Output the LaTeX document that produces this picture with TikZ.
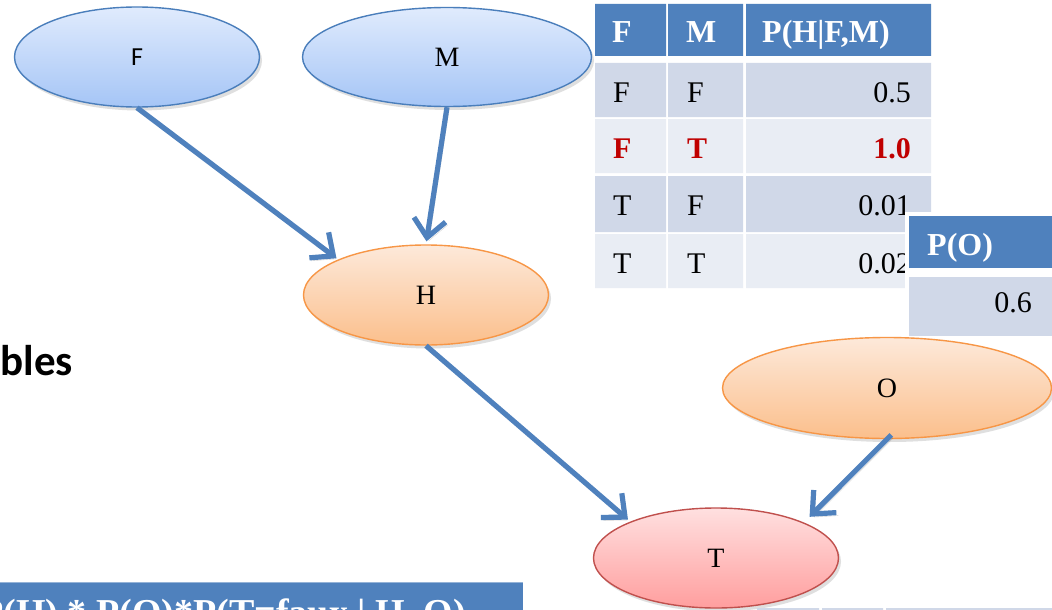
\documentclass[tikz,border=0pt]{standalone}
\usepackage{fontspec}
\setmainfont{Liberation Serif}
\newfontfamily\calib{Carlito}
\usetikzlibrary{shapes.geometric,arrows.meta,shadows}

\definecolor{hdrblue}{HTML}{4F81BD}
\definecolor{rowdark}{HTML}{D0D8E8}
\definecolor{rowlight}{HTML}{E9EDF4}
\definecolor{linkblue}{HTML}{4F81BD}
\definecolor{blueedge}{HTML}{4A7EBB}
\definecolor{bluetop}{HTML}{E0EBFD}
\definecolor{bluebot}{HTML}{A5C5F6}
\definecolor{orangeedge}{HTML}{F79646}
\definecolor{orangetop}{HTML}{FDE9DA}
\definecolor{orangebot}{HTML}{FBBF8C}
\definecolor{rededge}{HTML}{C0504D}
\definecolor{redtop}{HTML}{FFE0E0}
\definecolor{redbot}{HTML}{FF9E9E}
\definecolor{darkred}{HTML}{C00000}

\begin{document}
\begin{tikzpicture}[x=1pt,y=-1pt,
  varnode/.style={ellipse, inner sep=0pt, line width=1.4pt,
    drop shadow={shadow xshift=2.5pt, shadow yshift=-3.5pt, opacity=0.25}},
  bluevar/.style={varnode, draw=blueedge, top color=bluetop, bottom color=bluebot},
  orangevar/.style={varnode, draw=orangeedge, top color=orangetop, bottom color=orangebot},
  redvar/.style={varnode, draw=rededge, top color=redtop, bottom color=redbot},
  letter/.style={font=\fontsize{28}{32}\selectfont},
  link/.style={draw=linkblue, line width=5.2pt,
    -{Straight Barb[length=18pt,width=32pt]},
    preaction={draw=black, opacity=0.18, transform canvas={shift={(2pt,-3pt)}}}},
  cell/.style={inner sep=0pt, font=\fontsize{30}{34}\selectfont},
  headcell/.style={cell, text=white, font=\fontsize{32}{36}\selectfont\bfseries},
  hotcell/.style={cell, text=darkred, font=\fontsize{30}{34}\selectfont\bfseries}]

\useasboundingbox (0,0) rectangle (1052,610);
\clip (0,0) rectangle (1052,610);
\fill[white] (0,0) rectangle (1052,610);

% conditional table P(H|F,M)
\fill[hdrblue] (595,4) rectangle (666,56) (668,4) rectangle (743,56) (746,4) rectangle (931,56);
\fill[rowdark]  (595,63) rectangle (666,117) (668,63) rectangle (743,117) (746,63) rectangle (931,117);
\fill[rowlight] (595,119) rectangle (666,173) (668,119) rectangle (743,173) (746,119) rectangle (931,173);
\fill[rowdark]  (595,176) rectangle (666,232) (668,176) rectangle (743,232) (746,176) rectangle (931,232);
\fill[rowlight] (595,234) rectangle (666,288) (668,234) rectangle (743,288) (746,234) rectangle (931,288);

\node[headcell, anchor=base west] (hF) at (612,43) {F};
\node[headcell, anchor=base west] (hM) at (686,43) {M};
\node[headcell, anchor=base west] (hP) at (762,43) {P(H|F,M)};

\node[cell, anchor=base west] (r1a) at (613,102) {F};
\node[cell, anchor=base west] (r1b) at (687,102) {F};
\node[cell, anchor=base east] (r1c) at (911,102) {0.5};
\node[hotcell, anchor=base west] (r2a) at (613,158) {F};
\node[hotcell, anchor=base west] (r2b) at (687,158) {T};
\node[hotcell, anchor=base east] (r2c) at (911,158) {1.0};
\node[cell, anchor=base west] (r3a) at (613,215) {T};
\node[cell, anchor=base west] (r3b) at (687,215) {F};
\node[cell, anchor=base east] (r3c) at (911,215) {0.01};
\node[cell, anchor=base west] (r4a) at (613,273) {T};
\node[cell, anchor=base west] (r4b) at (687,273) {T};
\node[cell, anchor=base east] (r4c) at (911,273) {0.02};

% prior table P(O), lying over the first one
\fill[white] (905,212) rectangle (1052,340);
\fill[hdrblue] (909,216) rectangle (1052,268);
\fill[rowdark] (909,277) rectangle (1052,336);
\node[headcell, anchor=base west] (oP) at (927,255) {P(O)};
\node[cell, anchor=base east] (oV) at (1032,312) {0.6};

% variables
\node[bluevar, minimum width=245pt, minimum height=100pt, font=\calib\fontsize{26}{30}\selectfont] (F) at (137,57) {F};
\node[bluevar, minimum width=289pt, minimum height=99pt, letter] (M) at (447,57) {M};
\node[orangevar, minimum width=245pt, minimum height=100pt, letter] (H) at (426,295) {H};
\node[orangevar, minimum width=329pt, minimum height=101pt, letter] (O) at (887,388) {O};
\node[redvar, minimum width=245pt, minimum height=100pt, letter] (T) at (716,558) {T};

% dependencies
\draw[link, shorten >=2pt] (F.south) -- (H.158);
\draw[link, shorten >=3pt] (M.south) -- (H.north);
\draw[link, shorten >=3pt] (H.south) -- (T.157);
\draw[link, shorten <=-6pt, shorten >=8pt] (O.south) -- (T.22);

% heading fragment on the left
\node[anchor=base east, inner sep=0pt, font=\calib\fontsize{43}{47}\selectfont\bfseries] (heading) at (73,375) {bles};

% formula bar along the bottom
\fill[hdrblue] (0,582) rectangle (523,612);
\draw[color=hdrblue!60, line width=0.8pt] (0,582.4) -- (523,582.4);
\node[anchor=base west, inner sep=0pt, text=white, font=\fontsize{38}{42}\selectfont\bfseries] (formula) at (-20,625) {P(H) * P(O)*P(T=faux | H, O)};

% top edge of a further table
\fill[rowdark] (757,608) rectangle (819,612) (822,608) rectangle (883,612) (886,608) rectangle (1052,612);
\end{tikzpicture}
\end{document}
